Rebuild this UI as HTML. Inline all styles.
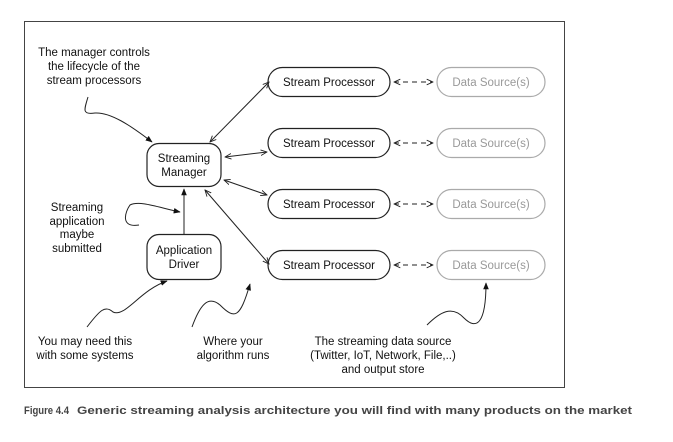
<!DOCTYPE html>
<html><head><meta charset="utf-8"><style>
html,body{margin:0;padding:0;background:#fff;}
svg{display:block;}
text{font-family:"Liberation Sans",Arial,sans-serif;font-size:11.5px;fill:#111;}
</style></head><body>
<svg width="673" height="442" viewBox="0 0 673 442" xmlns="http://www.w3.org/2000/svg">
<defs>
<marker id="a" viewBox="0 0 10 10" refX="9" refY="5" markerWidth="7" markerHeight="7" orient="auto-start-reverse"><path d="M0,1 L9,5 L0,9" fill="none" stroke="#222" stroke-width="1.3"/></marker>
<marker id="f" viewBox="0 0 10 10" refX="9" refY="5" markerWidth="7" markerHeight="7" orient="auto"><path d="M0,1 L10,5 L0,9 z" fill="#111"/></marker>
</defs>
<rect x="24.5" y="21.5" width="540" height="366" fill="none" stroke="#444" stroke-width="1"/>
<g fill="#fff" stroke="#222" stroke-width="1.2">
<rect x="268" y="67.5" width="122" height="29" rx="14.5"/>
<rect x="268" y="128.5" width="122" height="29" rx="14.5"/>
<rect x="268" y="189.5" width="122" height="29" rx="14.5"/>
<rect x="268" y="250.5" width="122" height="29" rx="14.5"/>
<rect x="147" y="143.5" width="74" height="43" rx="12"/>
<rect x="147" y="234.5" width="74" height="45" rx="12"/>
</g>
<g fill="#fff" stroke="#aaa" stroke-width="1.2">
<rect x="437" y="67.5" width="108" height="29" rx="14.5"/>
<rect x="437" y="128.5" width="108" height="29" rx="14.5"/>
<rect x="437" y="189.5" width="108" height="29" rx="14.5"/>
<rect x="437" y="250.5" width="108" height="29" rx="14.5"/>
</g>
<g text-anchor="middle">
<text x="329" y="86">Stream Processor</text>
<text x="329" y="147">Stream Processor</text>
<text x="329" y="208">Stream Processor</text>
<text x="329" y="269">Stream Processor</text>
<text x="491" y="86" style="fill:#999">Data Source(s)</text>
<text x="491" y="147" style="fill:#999">Data Source(s)</text>
<text x="491" y="208" style="fill:#999">Data Source(s)</text>
<text x="491" y="269" style="fill:#999">Data Source(s)</text>
<text x="184" y="162">Streaming</text><text x="184" y="176">Manager</text>
<text x="184" y="254">Application</text><text x="184" y="268">Driver</text>
<text x="94" y="56">The manager controls</text><text x="94" y="70">the lifecycle of the</text><text x="94" y="84">stream processors</text>
<text x="77" y="211">Streaming</text><text x="77" y="225">application</text><text x="77" y="238">maybe</text><text x="77" y="252">submitted</text>
<text x="85" y="345">You may need this</text><text x="85" y="359">with some systems</text>
<text x="233" y="345">Where your</text><text x="233" y="359">algorithm runs</text>
<text x="383" y="345">The streaming data source</text><text x="383" y="359">(Twitter, IoT, Network, File,..)</text><text x="383" y="373">and output store</text>
</g>
<g fill="none" stroke="#222" stroke-width="1">
<line x1="394" y1="82" x2="433" y2="82" stroke-dasharray="5,4" marker-start="url(#a)" marker-end="url(#a)"/>
<line x1="394" y1="143" x2="433" y2="143" stroke-dasharray="5,4" marker-start="url(#a)" marker-end="url(#a)"/>
<line x1="394" y1="204" x2="433" y2="204" stroke-dasharray="5,4" marker-start="url(#a)" marker-end="url(#a)"/>
<line x1="394" y1="265" x2="433" y2="265" stroke-dasharray="5,4" marker-start="url(#a)" marker-end="url(#a)"/>
<line x1="210" y1="142" x2="269" y2="82" marker-start="url(#a)" marker-end="url(#a)"/>
<line x1="225" y1="157" x2="267" y2="152" marker-start="url(#a)" marker-end="url(#a)"/>
<line x1="224" y1="180" x2="267" y2="195" marker-start="url(#a)" marker-end="url(#a)"/>
<line x1="205" y1="190" x2="269" y2="264" marker-start="url(#a)" marker-end="url(#a)"/>
<line x1="184" y1="234" x2="184" y2="189" marker-end="url(#f)"/>
<path d="M88,97 C84,110 82,115 95,113 C110,112 130,125 152,142" marker-end="url(#f)"/>
<path d="M139,225 C120,228 125,212 130,205 C140,200 160,208 180,212" marker-end="url(#f)"/>
<path d="M87,327 C100,310 105,305 113,312 C125,318 140,290 167,281" marker-end="url(#f)"/>
<path d="M192,327 C200,305 208,295 220,305 C235,320 240,318 250,284" marker-end="url(#f)"/>
<path d="M427,325 C440,312 452,305 464,318 C476,330 486,325 486,283" marker-end="url(#f)"/>
</g>
<text x="24" y="414" textLength="45" lengthAdjust="spacingAndGlyphs" style="font-weight:bold;font-size:11px;fill:#444">Figure 4.4</text>
<text x="77" y="414" textLength="555" lengthAdjust="spacingAndGlyphs" style="font-weight:bold;font-size:11px;fill:#444">Generic streaming analysis architecture you will find with many products on the market</text>
</svg>
</body></html>
